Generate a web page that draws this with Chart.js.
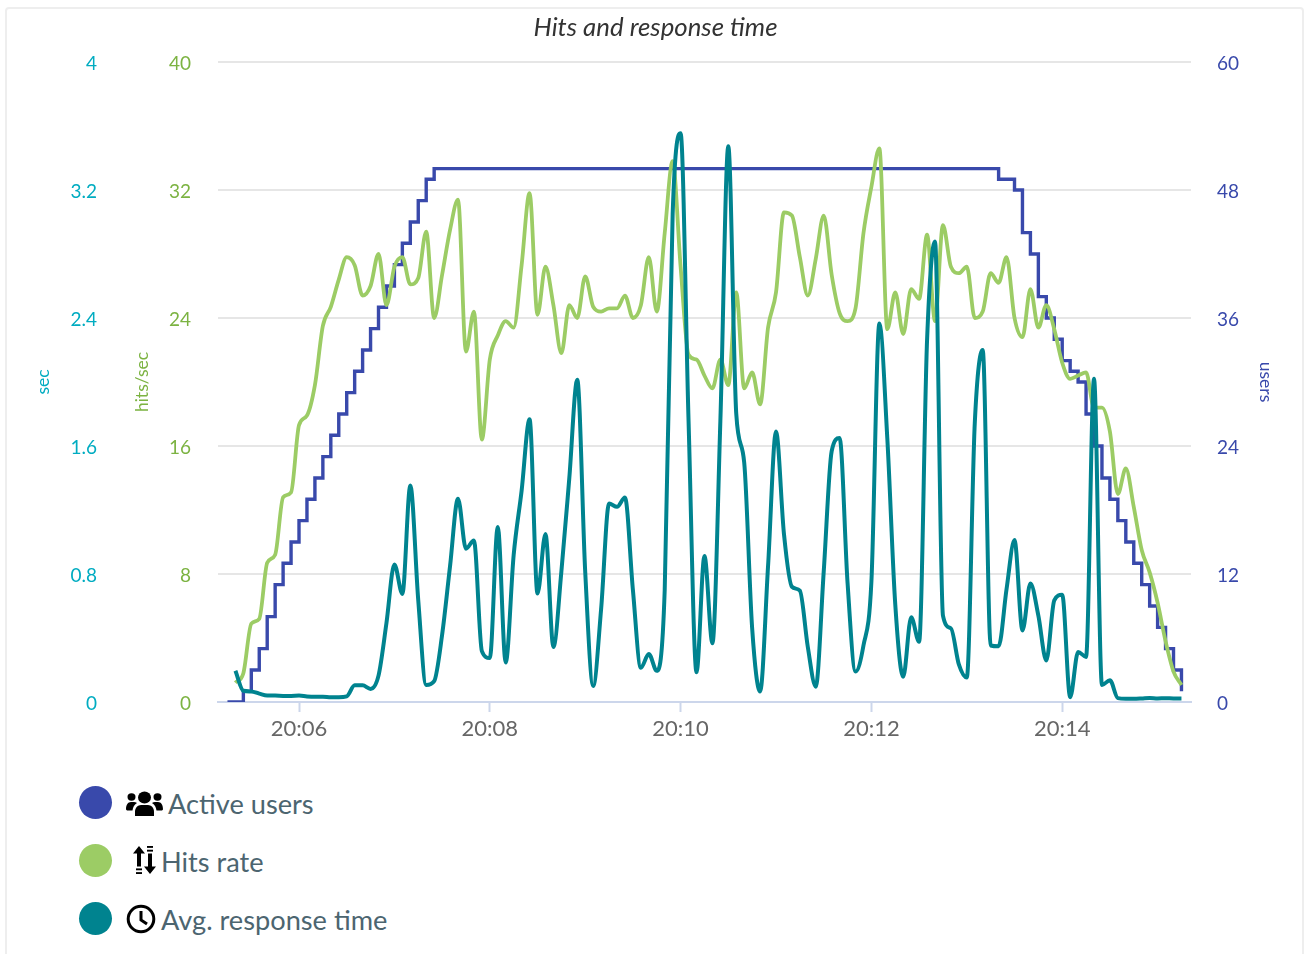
<!DOCTYPE html>
<html>
<head>
<meta charset="utf-8">
<title>Hits and response time</title>
<script src="https://cdn.jsdelivr.net/npm/chart.js@4"></script>
<style>
html,body{margin:0;padding:0;background:#fff;overflow:hidden;width:1306px;height:954px;font-family:Lato,sans-serif}
#card{position:absolute;left:5px;top:7px;width:1299px;height:960px;border:2px solid #eeeeee;border-radius:4px;box-sizing:border-box}
#wrap{position:absolute;left:0;top:0;width:1306px;height:770px;overflow:hidden}
#legend{position:absolute;left:0;top:0}
.item{position:absolute;left:79px;height:34px;white-space:nowrap;color:#4c6570;font-size:27.2px;line-height:36px}
.dot{position:absolute;left:0;top:0;width:33px;height:33px;border-radius:50%}
.item svg{position:absolute}
.item span.t{position:absolute;top:0}
</style>
</head>
<body>
<div id="card"></div>
<div id="wrap"><canvas id="c" width="1311" height="770"></canvas></div>
<div id="legend"></div>
<script>
const chartTitle = 'Hits and response time';
const sampleSeconds = [315,320,325,330,335,340,345,350,355,
360,365,370,375,380,385,390,395,400,405,
410,415,420,425,430,435,440,445,450,455,
460,465,470,475,480,485,490,495,500,505,
510,515,520,525,530,535,540,545,550,555,
560,565,570,575,580,585,590,595,600,605,
610,615,620,625,630,635,640,645,650,655,
660,665,670,675,680,685,690,695,700,705,
710,715,720,725,730,735,740,745,750,755,
760,765,770,775,780,785,790,795,800,805,
810,815,820,825,830,835,840,845,850,855,
860,865,870,875,880,885,890,895,900,905,
910,915];
const activeUsers = [0,0,1,3,5,8,11,13,15,
17,19,21,23,25,27,29,31,33,35,
37,39,41,43,45,47,49,50,50,50,
50,50,50,50,50,50,50,50,50,50,
50,50,50,50,50,50,50,50,50,50,
50,50,50,50,50,50,50,50,50,50,
50,50,50,50,50,50,50,50,50,50,
50,50,50,50,50,50,50,50,50,50,
50,50,50,50,50,50,50,50,50,50,
50,50,50,50,50,50,50,50,49,49,
48,44,42,38,36,34,32,31,30,27,
24,21,19,17,15,13,11,9,7,5,
3,1];
const hitsRate = [null,1.2,1.8,4.9,5.2,8.7,9.2,12.8,13.1,
17.3,17.9,19.8,23.5,24.7,26.4,27.8,27.3,25.4,26,
28,24.8,27.2,27.8,26.1,26.5,29.4,24,26.7,29.5,
31.4,21.9,24.4,16.4,21.4,22.9,23.8,23.4,27.3,31.8,
24.2,27.2,24.8,21.8,24.8,24,26.6,24.7,24.4,24.6,
24.6,25.4,24,24.8,27.8,24.4,29.3,33.8,27.2,21.7,
21.4,20.4,19.6,21.4,19.8,25.6,19.6,20.6,18.6,23.4,
25.6,30.6,30.4,27.8,25.4,27.7,30.4,26.7,24.3,23.8,
24.6,29.3,32.2,34.6,23.3,25.6,23,25.8,25.2,29.2,
23.8,29.8,27.2,26.8,27.2,24,24.4,26.8,26.2,27.8,
24,22.8,25.8,23.4,24.8,23.3,21.2,20.2,20.4,20.6,
18.4,18.4,16.9,13,14.6,12.2,9.5,8.1,6.2,3.8,
1.9,1.06];
const responseTime = [null,0.195,0.07,0.066,0.052,0.04,0.04,0.038,0.038,
0.04,0.035,0.033,0.033,0.03,0.03,0.035,0.104,0.104,0.082,
0.165,0.494,0.86,0.675,1.353,0.635,0.106,0.13,0.42,0.85,
1.27,0.958,1.01,0.318,0.275,1.094,0.247,0.918,1.32,1.767,
0.678,1.05,0.344,0.814,1.4,2.014,0.814,0.1,0.58,1.24,
1.22,1.278,0.7,0.214,0.3,0.195,0.7,3.05,3.555,1.755,
0.186,0.913,0.367,1.755,3.473,1.8,1.496,0.46,0.066,0.85,
1.69,1.05,0.72,0.696,0.344,0.096,0.814,1.567,1.65,0.744,
0.19,0.353,0.753,2.365,1.647,0.61,0.158,0.53,0.376,2.26,
2.878,0.54,0.46,0.235,0.153,1.74,2.2,0.353,0.348,0.706,
1.012,0.447,0.741,0.54,0.259,0.635,0.67,0.03,0.313,0.282,
2.02,0.106,0.136,0.024,0.02,0.02,0.022,0.025,0.022,0.024,
0.022,0.022];
const timeTicks = [360,480,600,720,840];
const secTicks = [0,0.8,1.6,2.4,3.2,4];
const hitsTicks = [0,8,16,24,32,40];
const userTicks = [0,12,24,36,48,60];
const legendNames = ['Active users','Hits rate','Avg. response time'];

const FONT = 'Lato, sans-serif';
const BLUE='#3949ab', GREEN='#9ccc65', TEAL='#00838f';
const toPoints = vals => sampleSeconds.map((x,i)=>({x, y: vals[i]}));
const fixedTicks = list => axis => { axis.ticks = list.map(v=>({value:v})); };
const fixedWidth = w => axis => { axis.width = w; };

new Chart(document.getElementById('c'),{
  type:'line',
  data:{datasets:[
    {label:legendNames[2],data:toPoints(responseTime),yAxisID:'ySec',borderColor:TEAL,borderWidth:4,order:1,
      cubicInterpolationMode:'monotone',pointRadius:0,spanGaps:false,borderJoinStyle:'round'},
    {label:legendNames[1],data:toPoints(hitsRate),yAxisID:'yHits',borderColor:GREEN,borderWidth:3.8,order:2,
      cubicInterpolationMode:'monotone',pointRadius:0,spanGaps:false,borderJoinStyle:'round'},
    {label:legendNames[0],data:toPoints(activeUsers),yAxisID:'yUsers',borderColor:BLUE,borderWidth:3.4,order:3,
      stepped:'before',pointRadius:0}
  ]},
  options:{
    responsive:false,animation:false,
    devicePixelRatio:1,
    layout:{padding:{left:0,right:0,top:0,bottom:0}},
    plugins:{
      legend:{display:false},
      tooltip:{enabled:false},
      title:{display:true,text:chartTitle,color:'#333333',
        font:{family:FONT,size:25.8,style:'italic',weight:'normal'},
        padding:{top:12.5,bottom:18.5}}
    },
    scales:{
      x:{type:'linear',min:309.05,max:921,
        afterBuildTicks:fixedTicks(timeTicks),
        afterFit:axis=>{axis.height=68;},
        border:{color:'#ccd6eb',width:2},
        grid:{drawOnChartArea:false,drawTicks:true,tickLength:10,tickColor:'#ccd6eb',tickWidth:2},
        ticks:{autoSkip:false,maxRotation:0,minRotation:0,padding:4,color:'#666666',
          font:{family:FONT,size:22},
          callback:v=>{const m=Math.floor(v/60);return '20:'+String(m).padStart(2,'0');}}
      },
      ySec:{position:'left',weight:2,min:0,max:4,
        afterBuildTicks:fixedTicks(secTicks),afterFit:fixedWidth(115),
        border:{display:false},grid:{display:false,drawTicks:false},
        title:{display:true,text:'sec',color:'#00acc1',font:{family:FONT,size:17.5},padding:{top:33,bottom:0}},
        ticks:{color:'#00acc1',padding:18,labelOffset:1.5,font:{family:FONT,size:19},callback:v=>String(v)}
      },
      yHits:{position:'left',weight:1,min:0,max:40,
        afterBuildTicks:fixedTicks(hitsTicks),afterFit:fixedWidth(103),
        border:{display:false},
        grid:{color:'#e6e6e6',lineWidth:2,drawTicks:false},
        title:{display:true,text:'hits/sec',color:'#7cb342',font:{family:FONT,size:17.5},padding:{top:17,bottom:0}},
        ticks:{color:'#7cb342',padding:27,labelOffset:1.5,font:{family:FONT,size:19},callback:v=>String(v)}
      },
      yUsers:{position:'right',min:0,max:60,
        afterBuildTicks:fixedTicks(userTicks),afterFit:fixedWidth(120),
        border:{display:false},grid:{display:false,drawTicks:false},
        title:{display:true,text:'users',color:'#3949ab',font:{family:FONT,size:17.5},padding:{top:35,bottom:0}},
        ticks:{color:'#3949ab',padding:26,labelOffset:1.5,font:{family:FONT,size:19},callback:v=>String(v)}
      }
    }
  }
});

const icons = [
 {x:47,w:37,h:25,y:5,txt:89,svg:'<svg viewBox="0 0 37 27" preserveAspectRatio="none"><circle cx="18.5" cy="7" r="6.5" fill="#000"/><circle cx="5.5" cy="6.5" r="4" fill="#000"/><circle cx="31.5" cy="6.5" r="4" fill="#000"/><path d="M9 27v-5c0-4 3-7 6-7h7c3 0 6 3 6 7v5z" fill="#000"/><path d="M0 20c0-5 2-8 5-8h3c1 0 2 .5 3 1-3 2-4 5-4.5 8H1z" fill="#000"/><path d="M37 20c0-5-2-8-5-8h-3c-1 0-2 .5-3 1 3 2 4 5 4.5 8H36z" fill="#000"/></svg>'},
 {x:53,w:25,h:28,y:2,txt:82,svg:'<svg viewBox="0 0 25 30" preserveAspectRatio="none"><path d="M7 0l6 8H9v14H5V8H1z" fill="#000"/><rect x="4" y="24" width="6" height="2" fill="#000"/><rect x="4" y="28" width="6" height="2" fill="#000"/><rect x="15" y="0" width="6" height="2" fill="#000"/><rect x="15" y="4" width="6" height="2" fill="#000"/><path d="M16 8h4v14h4l-6 8-6-8h4z" fill="#000"/></svg>'},
 {x:47,w:30,h:30,y:2,txt:82,svg:'<svg viewBox="0 0 30 30"><circle cx="15" cy="15" r="12.8" fill="none" stroke="#000" stroke-width="3"/><path d="M15 7v9l6 4" fill="none" stroke="#000" stroke-width="3"/></svg>'}
];
const tops=[786,844,902];
const colors=[BLUE,GREEN,TEAL];
const lg=document.getElementById('legend');
legendNames.forEach((n,i)=>{
  const d=document.createElement('div');d.className='item';d.style.top=tops[i]+'px';
  const ic=icons[i];
  d.innerHTML='<div class="dot" style="background:'+colors[i]+'"></div>'+
   ic.svg.replace('<svg ','<svg style="left:'+ic.x+'px;top:'+ic.y+'px;width:'+ic.w+'px;height:'+ic.h+'px" ')+
   '<span class="t" style="left:'+ic.txt+'px">'+n+'</span>';
  lg.appendChild(d);
});
</script>
</body>
</html>
